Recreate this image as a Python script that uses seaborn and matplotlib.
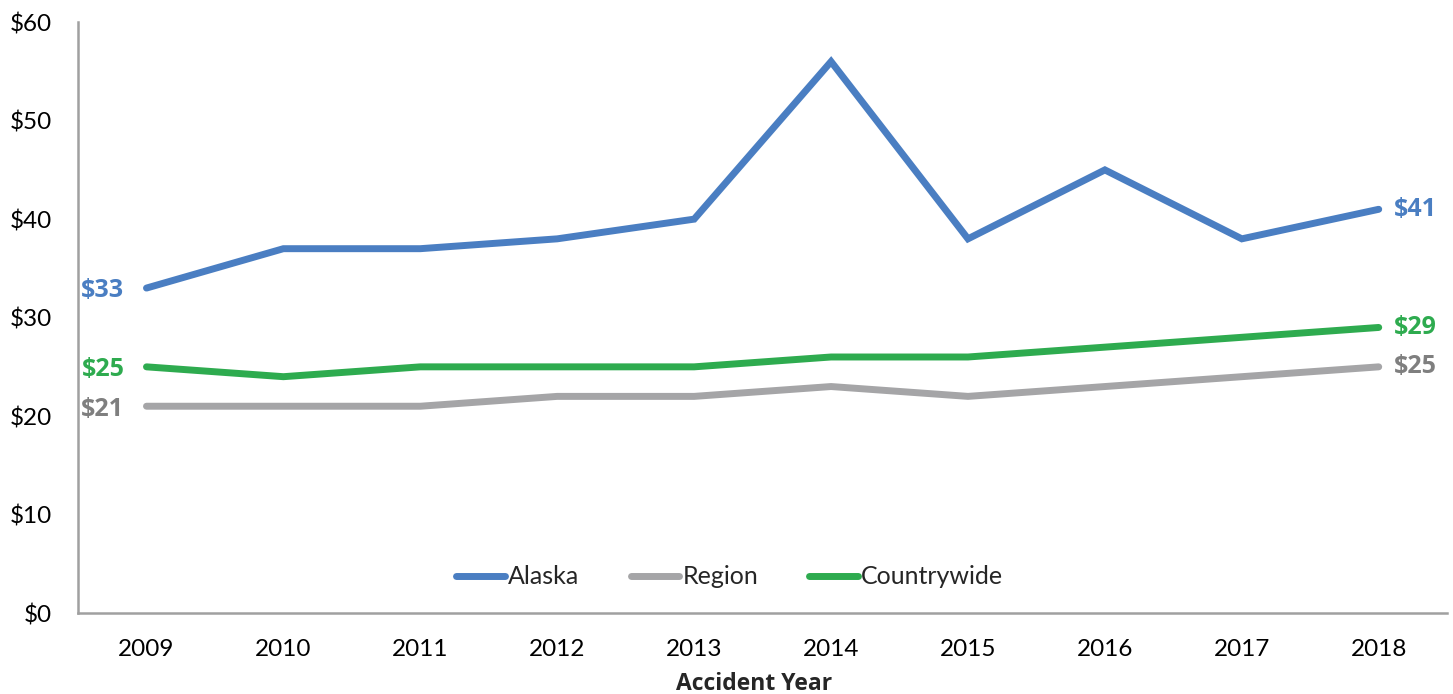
import numpy as np
import pandas as pd
import seaborn as sns
import matplotlib.pyplot as plt

# values
years = [2009, 2010, 2011, 2012, 2013, 2014, 2015, 2016, 2017, 2018]
alaska = [33, 37, 37, 38, 40, 56, 38, 45, 38, 41]
region = [21, 21, 21, 22, 22, 23, 22, 23, 24, 25]
countrywide = [25, 24, 25, 25, 25, 26, 26, 27, 28, 29]

series_names = ["Alaska", "Region", "Countrywide"]
line_colors = ["#4A7EC2", "#A5A5A7", "#2EAB4F"]
label_colors = ["#4A7EC2", "#7F7F7F", "#2EAB4F"]

df = pd.DataFrame({
    "pos": list(range(len(years))) * 3,
    "value": alaska + region + countrywide,
    "series": [s for s in series_names for _ in years],
})

sns.set_style("white")
plt.rcParams["font.family"] = ["Lato", "DejaVu Sans"]
bold_font = ["Open Sans", "DejaVu Sans"]

fig = plt.figure(figsize=(14.53, 6.94), dpi=100)
ax = fig.add_axes([0.0537, 0.1167, 0.9423, 0.8513])

sns.lineplot(data=df, x="pos", y="value", hue="series", hue_order=series_names,
             palette=line_colors, linewidth=5, ax=ax, legend=True)
for ln in ax.get_lines():
    ln.set_solid_capstyle("round")
    ln.set_solid_joinstyle("miter")

ax.set_xlim(-0.5, len(years) - 0.5)
ax.set_ylim(0, 60)
ax.set_xticks(range(len(years)))
ax.set_xticklabels([str(y) for y in years])
ax.set_yticks(range(0, 61, 10))
ax.set_yticklabels(["$%d" % v for v in range(0, 61, 10)])
ax.tick_params(axis="both", length=0, labelsize=17.5, colors="black")
ax.tick_params(axis="x", pad=19)
ax.tick_params(axis="y", pad=19)
ax.set_ylabel("")
ax.set_xlabel("Accident Year", fontsize=16.5, fontweight="bold", family=bold_font)
ax.xaxis.set_label_coords(0.494, -0.121)
ax.xaxis.label.set_va("center")

for side in ["top", "right"]:
    ax.spines[side].set_visible(False)
for side in ["left", "bottom"]:
    ax.spines[side].set_color("#A0A0A0")
    ax.spines[side].set_linewidth(1.8)

# end labels
data = [alaska, region, countrywide]
for vals, col, name in zip(data, label_colors, series_names):
    ax.annotate("$%d" % vals[0], xy=(0, vals[0]), xytext=(-16, -2),
                textcoords="offset points", ha="right", va="center",
                fontsize=18, fontweight="bold", family=bold_font, color=col)
    ax.annotate("$%d" % vals[-1], xy=(len(years) - 1, vals[-1]), xytext=(11, 0),
                textcoords="offset points", ha="left", va="center",
                fontsize=18, fontweight="bold", family=bold_font, color=col)

leg = ax.legend(loc="center", bbox_to_anchor=(0.476, 0.061), ncol=3, frameon=False,
                fontsize=18, handlelength=1.95, handletextpad=0.12, columnspacing=2.05)
for h in leg.get_lines():
    h.set_linewidth(5)
    h.set_solid_capstyle("round")

fig.savefig("out.png", dpi=100)
